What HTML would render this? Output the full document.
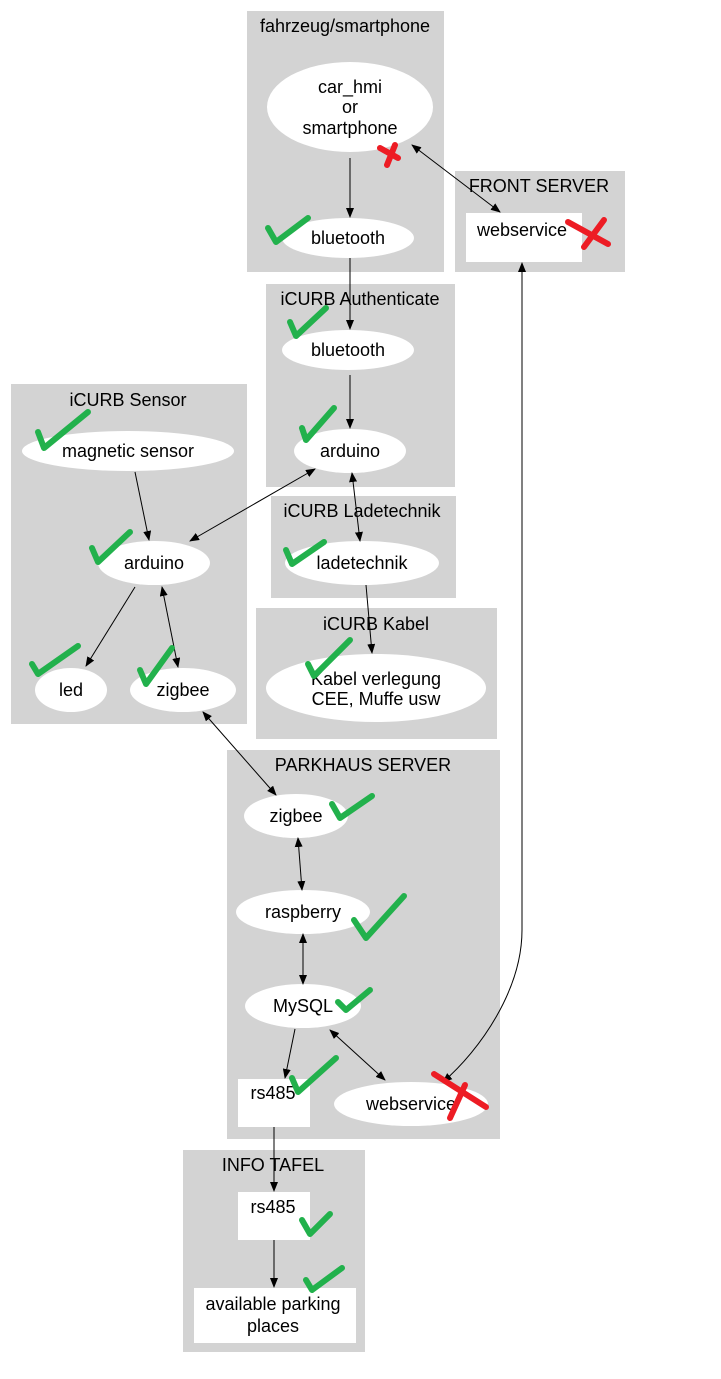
<!DOCTYPE html><html><head><style>body{margin:0;background:#fff}svg{display:block}text{font-family:"Liberation Sans",sans-serif;font-size:18px;fill:#000}</style></head><body>
<svg width="721" height="1379" viewBox="0 0 721 1379">
<defs><marker id="a" markerWidth="10" markerHeight="8" refX="9" refY="4" orient="auto-start-reverse" markerUnits="userSpaceOnUse"><path d="M0,0L10,4L0,8z" fill="#000"/></marker></defs>
<g fill="#d3d3d3">
<rect x="247" y="11" width="197" height="261"/><rect x="455" y="171" width="170" height="101"/>
<rect x="266" y="284" width="189" height="203"/><rect x="11" y="384" width="236" height="340"/>
<rect x="271" y="496" width="185" height="102"/><rect x="256" y="608" width="241" height="131"/>
<rect x="227" y="750" width="273" height="389"/><rect x="183" y="1150" width="182" height="202"/>
</g>
<g text-anchor="middle">
<text x="345" y="32">fahrzeug/smartphone</text><text x="539" y="192">FRONT SERVER</text>
<text x="360" y="305">iCURB Authenticate</text><text x="128" y="406">iCURB Sensor</text>
<text x="362" y="517">iCURB Ladetechnik</text><text x="376" y="630">iCURB Kabel</text>
<text x="363" y="771">PARKHAUS SERVER</text><text x="273" y="1171">INFO TAFEL</text>
</g>
<g fill="#fff">
<ellipse cx="350" cy="107" rx="83" ry="45"/><ellipse cx="348" cy="238" rx="66" ry="20"/>
<rect x="466" y="213" width="116" height="49"/>
<ellipse cx="348" cy="350" rx="66" ry="20"/><ellipse cx="350" cy="451" rx="56" ry="22"/>
<ellipse cx="128" cy="451" rx="106" ry="20"/><ellipse cx="154" cy="563" rx="56" ry="22"/>
<ellipse cx="71" cy="690" rx="36" ry="22"/><ellipse cx="183" cy="690" rx="53" ry="22"/>
<ellipse cx="362" cy="563" rx="77" ry="22"/><ellipse cx="376" cy="688" rx="110" ry="34"/>
<ellipse cx="296" cy="816" rx="52" ry="22"/><ellipse cx="303" cy="912" rx="67" ry="22"/>
<ellipse cx="303" cy="1006" rx="58" ry="22"/><rect x="238" y="1079" width="72" height="48"/>
<ellipse cx="411" cy="1104" rx="77" ry="22"/><rect x="238" y="1192" width="72" height="48"/>
<rect x="194" y="1288" width="162" height="55"/>
</g>
<g text-anchor="middle">
<text x="350" y="93">car_hmi</text><text x="350" y="113">or</text><text x="350" y="134">smartphone</text>
<text x="348" y="244">bluetooth</text><text x="522" y="236">webservice</text>
<text x="348" y="356">bluetooth</text><text x="350" y="457">arduino</text>
<text x="128" y="457">magnetic sensor</text><text x="154" y="569">arduino</text>
<text x="71" y="696">led</text><text x="183" y="696">zigbee</text>
<text x="362" y="569">ladetechnik</text><text x="376" y="685">Kabel verlegung</text><text x="376" y="705">CEE, Muffe usw</text>
<text x="296" y="822">zigbee</text><text x="303" y="918">raspberry</text><text x="303" y="1012">MySQL</text>
<text x="273" y="1099">rs485</text><text x="411" y="1110">webservice</text>
<text x="273" y="1213">rs485</text><text x="273" y="1310">available parking</text><text x="273" y="1332">places</text>
</g>
<g stroke="#000" fill="none" stroke-width="1">
<path d="M350,158L350,217" marker-end="url(#a)"/>
<path d="M412,145L500,212" marker-start="url(#a)" marker-end="url(#a)"/>
<path d="M350,258L350,329" marker-end="url(#a)"/>
<path d="M350,375L350,428" marker-end="url(#a)"/>
<path d="M315,469L190,541" marker-start="url(#a)" marker-end="url(#a)"/>
<path d="M352,473L360,541" marker-start="url(#a)" marker-end="url(#a)"/>
<path d="M366,585L372,653" marker-end="url(#a)"/>
<path d="M135,472L149,540" marker-end="url(#a)"/>
<path d="M135,587L86,666" marker-end="url(#a)"/>
<path d="M162,587L178,667" marker-start="url(#a)" marker-end="url(#a)"/>
<path d="M203,712L276,795" marker-start="url(#a)" marker-end="url(#a)"/>
<path d="M522,263C522,500 522,800 522,930C522,990 480,1050 443,1082" marker-start="url(#a)" marker-end="url(#a)"/>
<path d="M298,838L302,890" marker-start="url(#a)" marker-end="url(#a)"/>
<path d="M303,934L303,984" marker-start="url(#a)" marker-end="url(#a)"/>
<path d="M295,1029L285,1078" marker-end="url(#a)"/>
<path d="M330,1030L385,1080" marker-start="url(#a)" marker-end="url(#a)"/>
<path d="M274,1127L274,1191" marker-end="url(#a)"/>
<path d="M274,1240L274,1287" marker-end="url(#a)"/>
</g>
<g stroke="#22b14c" stroke-width="6" fill="none" stroke-linecap="round" stroke-linejoin="round">
<path d="M268,228L276,242L308,218"/><path d="M290,322L296,336L326,308"/>
<path d="M38,432L44,448L88,412"/><path d="M302,428L306,440L334,408"/>
<path d="M92,548L98,562L130,532"/><path d="M286,550L292,564L324,542"/>
<path d="M32,664L38,674L78,646"/><path d="M140,670L146,684L172,648"/>
<path d="M308,664L314,676L350,640"/><path d="M332,804L340,818L372,796"/>
<path d="M354,920L366,938L404,896"/><path d="M338,1002L346,1010L370,990"/>
<path d="M292,1078L298,1092L336,1058"/><path d="M302,1220L310,1234L330,1214"/>
<path d="M306,1280L312,1290L342,1268"/>
</g>
<g stroke="#ed1c24" stroke-width="6" fill="none" stroke-linecap="round">
<path d="M380,148L398,158M395,145L387,165"/>
<path d="M568,222L608,244M604,220L584,247"/>
<path d="M434,1074L486,1107M465,1085L450,1118"/>
</g>
</svg></body></html>
